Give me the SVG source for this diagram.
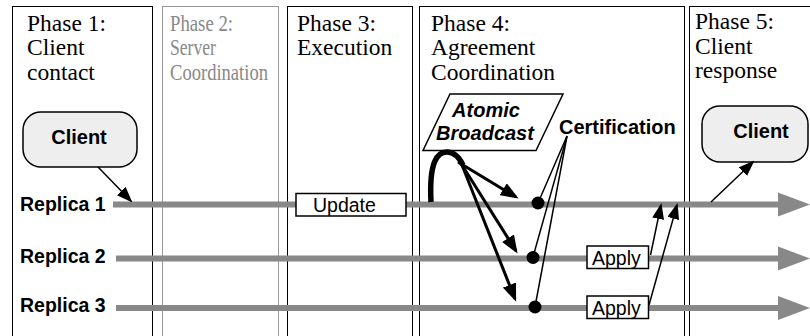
<svg xmlns="http://www.w3.org/2000/svg" width="810" height="336" viewBox="0 0 810 336">
<style>
.phase{fill:#fff;stroke:#000;stroke-width:1}
.phase2{fill:#fff;stroke:#999;stroke-width:1}
.ptxt{font-family:"Liberation Serif","Times New Roman",serif;font-size:23.5px;fill:#000}
.ptxt2{font-family:"Liberation Serif","Times New Roman",serif;font-size:23.5px;fill:#888}
.sans{font-family:"Liberation Sans",Arial,sans-serif;font-size:19.5px;fill:#000}
.lbl{font-size:20px}
.bold{font-weight:bold}
.rline{stroke:#888;stroke-width:6;fill:none}
.rhead{fill:#888}
.client{fill:#eee;stroke:#000;stroke-width:1.5}
.box{fill:#fff;stroke:#000;stroke-width:1.5}
.thin{stroke:#000;stroke-width:1.5;fill:none}
.thick{stroke:#000;stroke-width:3;fill:none}
</style>
<defs>
<marker id="ah" viewBox="0 0 16 12" refX="14" refY="6" markerWidth="16" markerHeight="12" markerUnits="userSpaceOnUse" orient="auto">
<path d="M0,0 L16,6 L0,12 z" fill="#000"/>
</marker>
<marker id="ahb" viewBox="0 0 18 14" refX="15" refY="7" markerWidth="18" markerHeight="14" markerUnits="userSpaceOnUse" orient="auto">
<path d="M0,0 L18,7 L0,14 z" fill="#000"/>
</marker>
</defs>

<g id="phase1">
<rect class="phase" x="12.5" y="6.5" width="140" height="340"/>
<text class="ptxt" x="27" y="31">Phase 1:</text>
<text class="ptxt" x="27" y="55">Client</text>
<text class="ptxt" x="27" y="80">contact</text>
</g>
<g id="phase2">
<rect class="phase2" x="162.5" y="6.5" width="116" height="340"/>
<text class="ptxt2" x="170" y="31" textLength="63" lengthAdjust="spacingAndGlyphs">Phase 2:</text>
<text class="ptxt2" x="170" y="55" textLength="46" lengthAdjust="spacingAndGlyphs">Server</text>
<text class="ptxt2" x="170" y="80" textLength="98" lengthAdjust="spacingAndGlyphs">Coordination</text>
</g>
<g id="phase3">
<rect class="phase" x="287.5" y="6.5" width="125" height="340"/>
<text class="ptxt" x="297" y="31">Phase 3:</text>
<text class="ptxt" x="297" y="55">Execution</text>
</g>
<g id="phase4">
<rect class="phase" x="419.5" y="6.5" width="265" height="340"/>
<text class="ptxt" x="431" y="31">Phase 4:</text>
<text class="ptxt" x="431" y="55">Agreement</text>
<text class="ptxt" x="431" y="80">Coordination</text>
</g>
<g id="phase5">
<rect class="phase" x="689.5" y="6.5" width="140" height="340"/>
<text class="ptxt" x="695" y="29">Phase 5:</text>
<text class="ptxt" x="695" y="54">Client</text>
<text class="ptxt" x="695" y="78">response</text>
</g>

<g id="replica1">
<text class="sans bold" x="20" y="210.5">Replica 1</text>
<line class="rline" x1="113" y1="204.5" x2="780" y2="204.5"/>
<polygon class="rhead" points="778,192.5 810,204.5 778,216.5"/>
</g>
<g id="replica2">
<text class="sans bold" x="20" y="262.5">Replica 2</text>
<line class="rline" x1="116" y1="258.5" x2="780" y2="258.5"/>
<polygon class="rhead" points="778,246.5 810,258.5 778,270.5"/>
</g>
<g id="replica3">
<text class="sans bold" x="20" y="312">Replica 3</text>
<line class="rline" x1="116" y1="308" x2="780" y2="308"/>
<polygon class="rhead" points="778,296 810,308 778,320"/>
</g>

<g id="client-left">
<rect class="client" x="23" y="112" width="114" height="55" rx="18"/>
<text class="sans lbl bold" x="79" y="144" text-anchor="middle">Client</text>
</g>
<g id="client-right">
<rect class="client" x="702" y="106" width="106" height="56" rx="18"/>
<text class="sans lbl bold" x="761" y="138" text-anchor="middle">Client</text>
</g>

<g id="update">
<rect class="box" x="296" y="193.5" width="110" height="22.5"/>
<text class="sans" x="313" y="212">Update</text>
</g>
<g id="apply2">
<rect class="box" x="587" y="246" width="61.5" height="22.5"/>
<text class="sans" x="592" y="265">Apply</text>
</g>
<g id="apply3">
<rect class="box" x="587" y="296" width="61.5" height="22.5"/>
<text class="sans" x="592" y="315">Apply</text>
</g>

<g id="atomic-broadcast">
<polygon points="450,94 563,94 536,150.5 423,150.5" fill="#fff" stroke="#000" stroke-width="1.5"/>
<text class="sans lbl bold" x="486" y="117" text-anchor="middle" font-style="italic">Atomic</text>
<text class="sans lbl bold" x="485" y="140" text-anchor="middle" font-style="italic">Broadcast</text>
</g>
<g id="certification">
<text class="sans lbl bold" x="559" y="134">Certification</text>
</g>

<g id="connectors">
<line class="thin" x1="98" y1="167" x2="131" y2="201" marker-end="url(#ah)"/>
<line class="thin" x1="711" y1="202" x2="753" y2="162" marker-end="url(#ah)"/>
<line class="thin" x1="650.5" y1="255" x2="661" y2="205" marker-end="url(#ah)"/>
<line class="thin" x1="649" y1="305" x2="677" y2="205" marker-end="url(#ah)"/>
<path d="M431,202 C429,162 437,152 447,152 C454,152 459,157 463,165" stroke="#000" stroke-width="5.5" fill="none"/>
<line class="thick" x1="458" y1="162" x2="516" y2="197" marker-end="url(#ahb)"/>
<line class="thick" x1="462" y1="165" x2="516" y2="251" marker-end="url(#ahb)"/>
<line class="thick" x1="462" y1="165" x2="515" y2="299" marker-end="url(#ahb)"/>
<line class="thin" x1="567" y1="136" x2="538" y2="203"/>
<line class="thin" x1="567" y1="136" x2="533" y2="257"/>
<line class="thin" x1="567" y1="136" x2="535" y2="307"/>
<circle cx="538" cy="203" r="6.5" fill="#000"/>
<circle cx="533" cy="257.5" r="6.5" fill="#000"/>
<circle cx="535" cy="307" r="6.5" fill="#000"/>
</g>
</svg>
